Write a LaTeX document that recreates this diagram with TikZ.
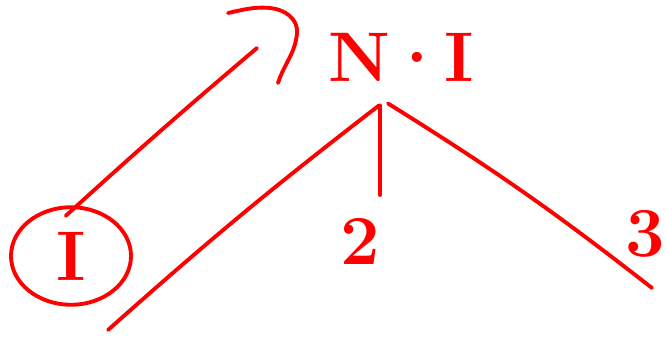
\documentclass[tikz,border=0pt]{standalone}
\usepackage{tikz}
\usetikzlibrary{shapes.geometric}

\begin{document}
\begin{tikzpicture}[
    ink/.style={draw=red, line width=2.2pt, line cap=round, line join=round},
    letter/.style={text=red, font=\fontsize{40}{44}\selectfont\bfseries}
  ]
  \useasboundingbox (0,0) rectangle (13.32,6.72);
  \clip (0,0) rectangle (13.32,6.72);
  % nodes
  \node[letter, inner sep=4.8mm] (NI) at (8.02,5.58) {N\hspace{-0.05em}\textperiodcentered\hspace{-0.05em}I};
  \node[letter] (two) at (7.2,1.9) {2};
  \node[letter] (three) at (12.9,2.05) {3};
  \node[letter, ellipse, ink, minimum width=2.4cm, minimum height=1.95cm, inner sep=0pt] (one) at (1.42,1.6) {I};
  \coordinate (leftend) at (2.16,0.12);
  \coordinate (midend) at (7.6,2.82);
  \coordinate (rightend) at (13.04,0.96);
  \coordinate (tip) at (5.14,5.76);
  % branches
  \draw[ink] ([xshift=-0.44cm]NI.south) to[bend right=2] (leftend);
  \draw[ink] ([xshift=-0.42cm]NI.south) -- (midend);
  \draw[ink] ([xshift=-0.26cm,yshift=0.04cm]NI.south) to[bend left=3] (rightend);
  % arrow
  \draw[ink] ([xshift=-3pt,yshift=-6pt]one.north) to[bend left=1] (tip);
  \draw[ink] (4.56,6.46) to[out=12,in=175] (5.4,6.56) to[out=-5,in=85] (5.94,6.06) to[out=-95,in=72] (5.56,5.06);
\end{tikzpicture}
\end{document}
